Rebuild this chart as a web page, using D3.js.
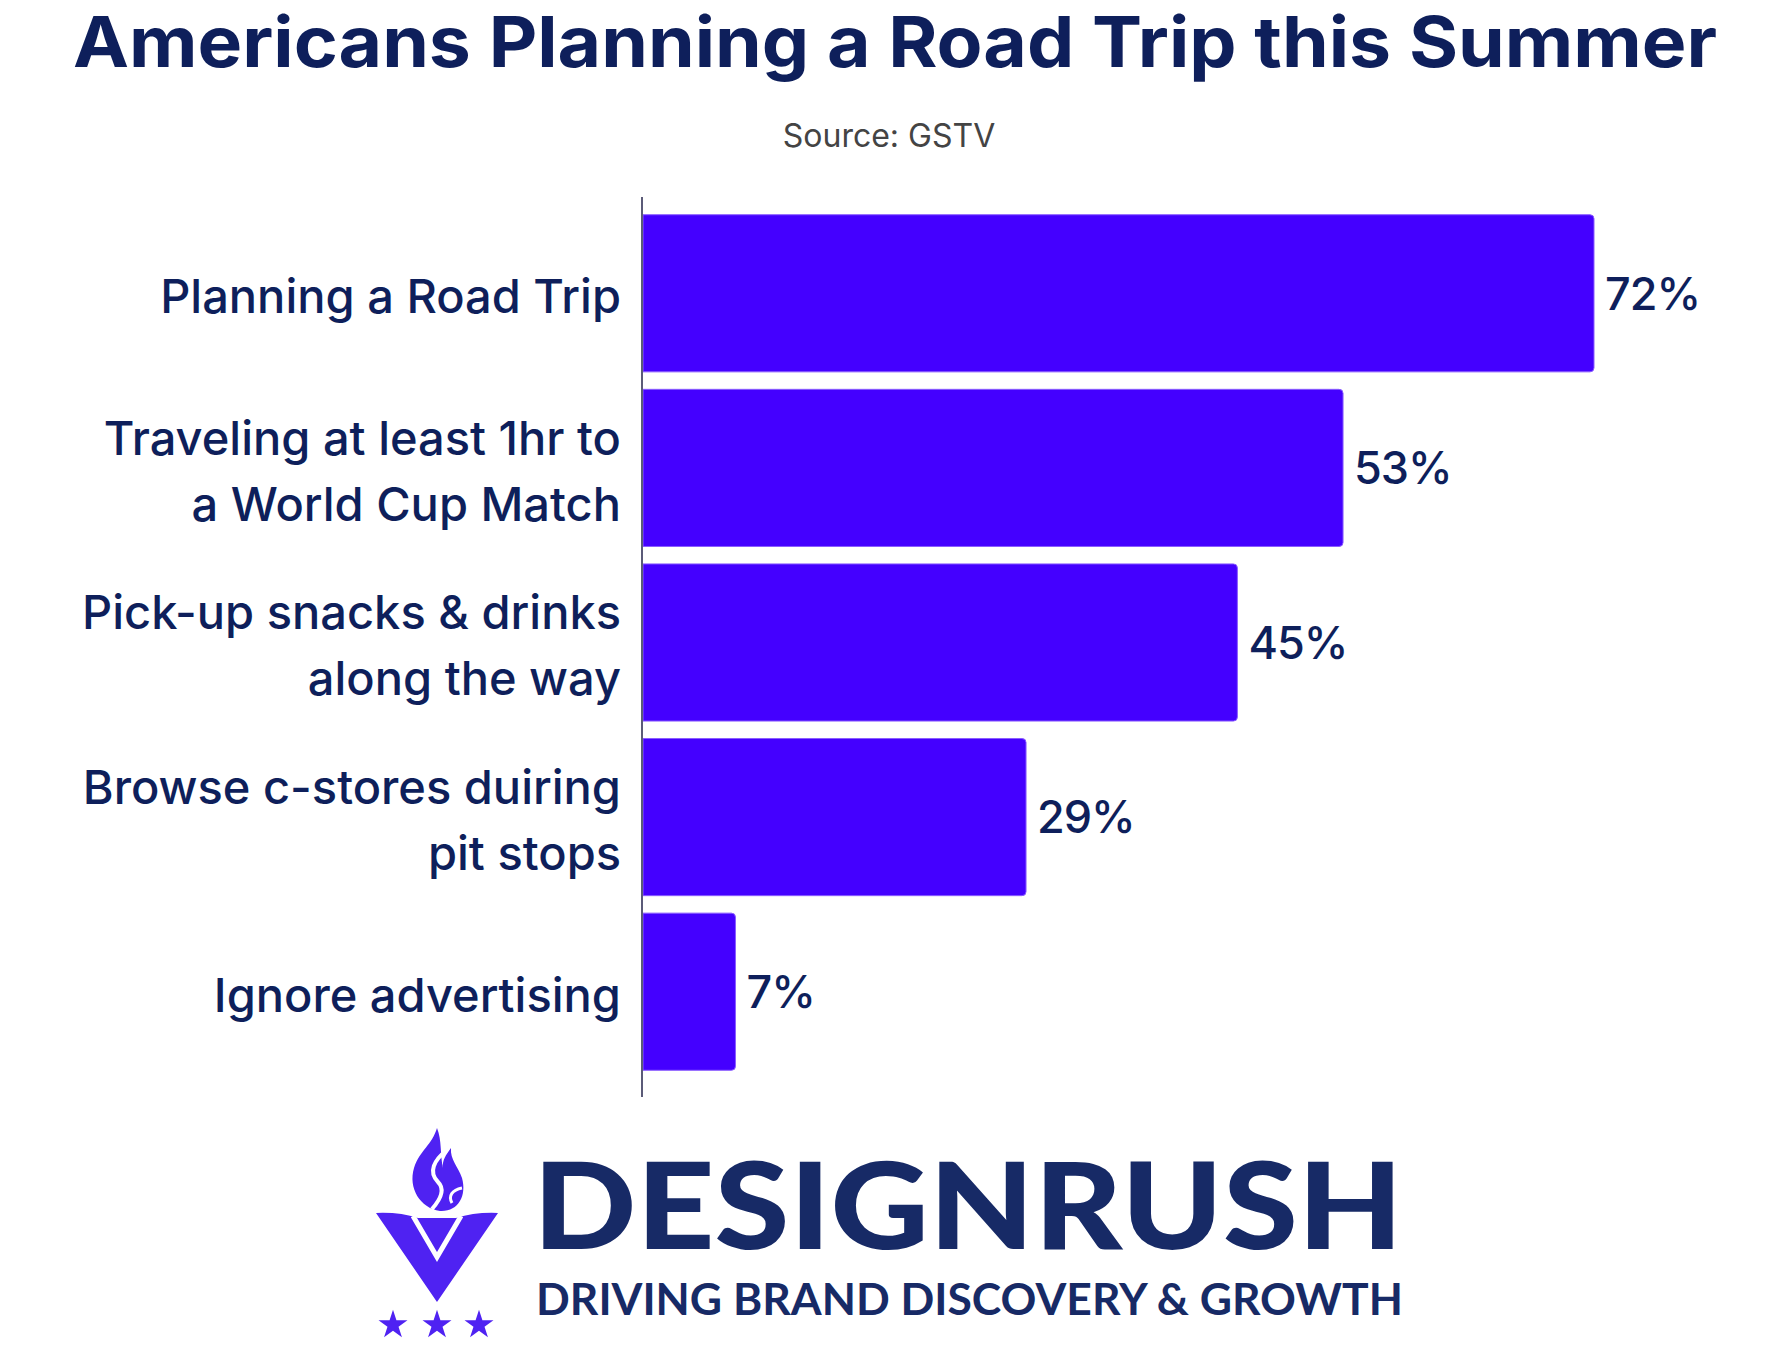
<!DOCTYPE html>
<html><head><meta charset="utf-8">
<script src="https://cdn.jsdelivr.net/npm/d3@7"></script>
<style>
html,body{margin:0;padding:0;background:#fff;}
svg{display:block;}
</style></head>
<body>
<script>
const categories = [
  ["Planning a Road Trip"],
  ["Traveling at least 1hr to", "a World Cup Match"],
  ["Pick-up snacks & drinks", "along the way"],
  ["Browse c-stores duiring", "pit stops"],
  ["Ignore advertising"]
];
const values = [72, 53, 45, 29, 7];
const valueLabels = ["72%", "53%", "45%", "29%", "7%"];
const title = "Americans Planning a Road Trip this Summer";
const subtitle = "Source: GSTV";

const W = 1778, H = 1346;
const navy = "#0e1f5b";
const barColor = "#4400ff";
const font = "Inter, 'Noto Sans', sans-serif";

const svg = d3.select("body").append("svg").attr("width", W).attr("height", H);

svg.append("text").attr("x", W/2 + 6).attr("y", 67).attr("text-anchor","middle")
  .attr("font-family", font).attr("font-weight", 700).attr("font-size", 70)
  .attr("fill", navy).attr("textLength", 1644).attr("lengthAdjust","spacingAndGlyphs")
  .text(title);

svg.append("text").attr("x", 889).attr("y", 147).attr("text-anchor","middle")
  .attr("font-family", font).attr("font-weight", 400).attr("font-size", 32)
  .attr("fill", "#444").text(subtitle);

const x = d3.scaleLinear().domain([0, 72]).range([643, 1594]);
const y = d3.scaleBand().domain(d3.range(categories.length)).range([206, 1079])
  .paddingInner(0.1).paddingOuter(0.05);

// bars with rounded right corners
const r = 4;
svg.append("g").selectAll("path").data(values).join("path")
  .attr("d", (d,i) => {
    const x0 = x(0), x1 = x(d), y0 = y(i), y1 = y(i) + y.bandwidth();
    return `M${x0},${y0}H${x1-r}Q${x1},${y0} ${x1},${y0+r}V${y1-r}Q${x1},${y1} ${x1-r},${y1}H${x0}Z`;
  })
  .attr("fill", barColor).attr("stroke", "#8a5cff").attr("stroke-width", 1);

// axis line
svg.append("line").attr("x1", 642).attr("x2", 642).attr("y1", 197).attr("y2", 1097)
  .attr("stroke", "#5b5b78").attr("stroke-width", 2);

// category labels
const lh = 66;
const lab = svg.append("g").attr("font-family", font).attr("font-weight", 500)
  .attr("font-size", 47).attr("fill", navy).attr("text-anchor", "end");
categories.forEach((lines, i) => {
  const cy = y(i) + y.bandwidth()/2 + 3;
  const t = lab.append("text").attr("x", 621);
  lines.forEach((ln, j) => {
    t.append("tspan").attr("x", 621)
      .attr("y", cy + (j - (lines.length-1)/2) * lh)
      .attr("dy", "0.36em").text(ln);
  });
});

// value labels
svg.append("g").selectAll("text").data(values).join("text")
  .attr("x", d => x(d) + 11)
  .attr("y", (d,i) => y(i) + y.bandwidth()/2)
  .attr("dy", "0.36em")
  .attr("font-family", font).attr("font-weight", 500).attr("font-size", 45)
  .attr("letter-spacing", -1)
  .attr("fill", navy)
  .text((d,i) => valueLabels[i]);

// logo
const logoColor = "#4f22f2";
const g = svg.append("g");
// flame
g.append("path").attr("fill", logoColor)
  .attr("d", "M437,1128 C432,1145 420,1150 414,1168 C408,1188 420,1208 440,1211 C458,1212 467,1196 462,1178 C458,1166 450,1160 451,1148 C446,1155 442,1160 443,1168 C440,1155 442,1140 437,1128 Z");
g.append("path").attr("fill", "none").attr("stroke", "#fff").attr("stroke-width", 4)
  .attr("d", "M447,1150 C434,1160 428,1172 438,1182 C446,1190 440,1200 432,1209");
g.append("path").attr("fill", "none").attr("stroke", "#fff").attr("stroke-width", 3)
  .attr("d", "M462,1188 C452,1190 448,1196 452,1203");
// V
g.append("path").attr("fill", logoColor)
  .attr("d", "M376,1213 Q400,1212 418,1218 L456,1218 Q475,1212 498,1213 L437,1302 Z");
g.append("path").attr("fill","none").attr("stroke","#fff").attr("stroke-width",5)
  .attr("d", "M413,1216 L437,1257 L461,1216");
// stars
const star = d3.symbol().type(d3.symbolStar).size(260);
[393, 437, 479].forEach(cx => {
  g.append("path").attr("d", star()).attr("transform", `translate(${cx},1325)`).attr("fill", logoColor);
});

svg.append("text").attr("x", 533).attr("y", 1249)
  .attr("font-family", "Lato, 'Open Sans', sans-serif").attr("font-weight", 900)
  .attr("font-size", 120).attr("fill", "#172a66")
  .attr("textLength", 870).attr("lengthAdjust", "spacingAndGlyphs")
  .text("DESIGNRUSH");
svg.append("text").attr("x", 536).attr("y", 1315)
  .attr("font-family", "Lato, 'Open Sans', sans-serif").attr("font-weight", 700)
  .attr("font-size", 44).attr("fill", "#172a66")
  .attr("textLength", 867).attr("lengthAdjust", "spacingAndGlyphs")
  .text("DRIVING BRAND DISCOVERY & GROWTH");
</script>
</body></html>
